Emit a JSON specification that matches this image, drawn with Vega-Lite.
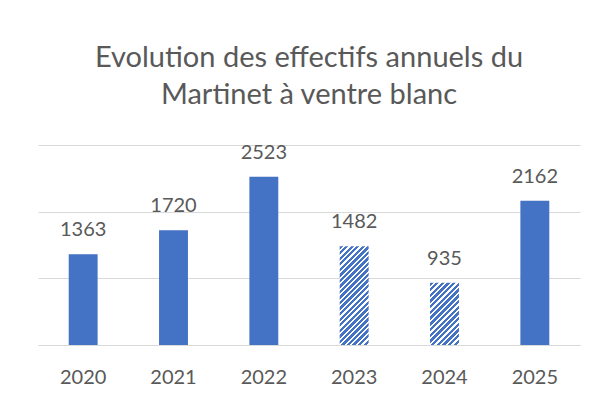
{
  "$schema": "https://vega.github.io/schema/vega-lite/v6.json",
  "width": 542,
  "height": 200,
  "autosize": {"type": "none"},
  "padding": {"left": 38, "top": 145, "right": 21, "bottom": 56},
  "background": "white",
  "config": {"view": {"stroke": null}, "font": "Lato"},
  "title": {
    "text": ["Evolution des effectifs annuels du", "Martinet à ventre blanc"],
    "fontSize": 29,
    "font": "Lato",
    "fontWeight": "normal",
    "color": "#595959",
    "lineHeight": 37,
    "offset": 33,
    "anchor": "middle"
  },
  "data": {
    "values": [
      {"year": "2020", "effectif": 1363},
      {"year": "2021", "effectif": 1720},
      {"year": "2022", "effectif": 2523},
      {"year": "2023", "effectif": 1482},
      {"year": "2024", "effectif": 935},
      {"year": "2025", "effectif": 2162}
    ]
  },
  "encoding": {
    "x": {
      "field": "year",
      "type": "ordinal",
      "scale": {"paddingInner": 0.68, "paddingOuter": 0.34},
      "axis": {
        "title": null,
        "labelAngle": 0,
        "ticks": false,
        "domainColor": "#d9d9d9",
        "domainWidth": 1,
        "labelFont": "Lato",
        "labelFontSize": 20,
        "labelColor": "#595959",
        "labelBaseline": "alphabetic",
        "labelPadding": 38
      }
    },
    "y": {
      "field": "effectif",
      "type": "quantitative",
      "scale": {"domain": [0, 3000]},
      "axis": {
        "title": null,
        "values": [0, 1000, 2000, 3000],
        "labels": false,
        "ticks": false,
        "domain": false,
        "grid": true,
        "gridColor": "#d9d9d9",
        "gridWidth": 1
      }
    }
  },
  "layer": [
    {
      "transform": [{"filter": "datum.year != '2023' && datum.year != '2024'"}],
      "mark": {"type": "bar", "fill": "#4472C4"}
    },
    {
      "transform": [{"filter": "datum.year == '2023'"}],
      "mark": {
        "type": "bar",
        "fill": {
          "gradient": "linear",
          "x1": 0, "y1": 0, "x2": 0.3483, "y2": 1.1906,
          "stops": [
            {"offset": 0, "color": "#4472C4"}, {"offset": 0.0261, "color": "#4472C4"}, {"offset": 0.0261, "color": "#ffffff"}, {"offset": 0.0435, "color": "#ffffff"},
            {"offset": 0.0435, "color": "#4472C4"}, {"offset": 0.0696, "color": "#4472C4"}, {"offset": 0.0696, "color": "#ffffff"}, {"offset": 0.0870, "color": "#ffffff"},
            {"offset": 0.0870, "color": "#4472C4"}, {"offset": 0.1131, "color": "#4472C4"}, {"offset": 0.1131, "color": "#ffffff"}, {"offset": 0.1304, "color": "#ffffff"},
            {"offset": 0.1304, "color": "#4472C4"}, {"offset": 0.1565, "color": "#4472C4"}, {"offset": 0.1565, "color": "#ffffff"}, {"offset": 0.1739, "color": "#ffffff"},
            {"offset": 0.1739, "color": "#4472C4"}, {"offset": 0.2000, "color": "#4472C4"}, {"offset": 0.2000, "color": "#ffffff"}, {"offset": 0.2174, "color": "#ffffff"},
            {"offset": 0.2174, "color": "#4472C4"}, {"offset": 0.2435, "color": "#4472C4"}, {"offset": 0.2435, "color": "#ffffff"}, {"offset": 0.2609, "color": "#ffffff"},
            {"offset": 0.2609, "color": "#4472C4"}, {"offset": 0.2870, "color": "#4472C4"}, {"offset": 0.2870, "color": "#ffffff"}, {"offset": 0.3043, "color": "#ffffff"},
            {"offset": 0.3043, "color": "#4472C4"}, {"offset": 0.3304, "color": "#4472C4"}, {"offset": 0.3304, "color": "#ffffff"}, {"offset": 0.3478, "color": "#ffffff"},
            {"offset": 0.3478, "color": "#4472C4"}, {"offset": 0.3739, "color": "#4472C4"}, {"offset": 0.3739, "color": "#ffffff"}, {"offset": 0.3913, "color": "#ffffff"},
            {"offset": 0.3913, "color": "#4472C4"}, {"offset": 0.4174, "color": "#4472C4"}, {"offset": 0.4174, "color": "#ffffff"}, {"offset": 0.4348, "color": "#ffffff"},
            {"offset": 0.4348, "color": "#4472C4"}, {"offset": 0.4609, "color": "#4472C4"}, {"offset": 0.4609, "color": "#ffffff"}, {"offset": 0.4783, "color": "#ffffff"},
            {"offset": 0.4783, "color": "#4472C4"}, {"offset": 0.5044, "color": "#4472C4"}, {"offset": 0.5044, "color": "#ffffff"}, {"offset": 0.5217, "color": "#ffffff"},
            {"offset": 0.5217, "color": "#4472C4"}, {"offset": 0.5478, "color": "#4472C4"}, {"offset": 0.5478, "color": "#ffffff"}, {"offset": 0.5652, "color": "#ffffff"},
            {"offset": 0.5652, "color": "#4472C4"}, {"offset": 0.5913, "color": "#4472C4"}, {"offset": 0.5913, "color": "#ffffff"}, {"offset": 0.6087, "color": "#ffffff"},
            {"offset": 0.6087, "color": "#4472C4"}, {"offset": 0.6348, "color": "#4472C4"}, {"offset": 0.6348, "color": "#ffffff"}, {"offset": 0.6522, "color": "#ffffff"},
            {"offset": 0.6522, "color": "#4472C4"}, {"offset": 0.6783, "color": "#4472C4"}, {"offset": 0.6783, "color": "#ffffff"}, {"offset": 0.6957, "color": "#ffffff"},
            {"offset": 0.6957, "color": "#4472C4"}, {"offset": 0.7218, "color": "#4472C4"}, {"offset": 0.7218, "color": "#ffffff"}, {"offset": 0.7391, "color": "#ffffff"},
            {"offset": 0.7391, "color": "#4472C4"}, {"offset": 0.7652, "color": "#4472C4"}, {"offset": 0.7652, "color": "#ffffff"}, {"offset": 0.7826, "color": "#ffffff"},
            {"offset": 0.7826, "color": "#4472C4"}, {"offset": 0.8087, "color": "#4472C4"}, {"offset": 0.8087, "color": "#ffffff"}, {"offset": 0.8261, "color": "#ffffff"},
            {"offset": 0.8261, "color": "#4472C4"}, {"offset": 0.8522, "color": "#4472C4"}, {"offset": 0.8522, "color": "#ffffff"}, {"offset": 0.8696, "color": "#ffffff"},
            {"offset": 0.8696, "color": "#4472C4"}, {"offset": 0.8957, "color": "#4472C4"}, {"offset": 0.8957, "color": "#ffffff"}, {"offset": 0.9130, "color": "#ffffff"},
            {"offset": 0.9130, "color": "#4472C4"}, {"offset": 0.9391, "color": "#4472C4"}, {"offset": 0.9391, "color": "#ffffff"}, {"offset": 0.9565, "color": "#ffffff"},
            {"offset": 0.9565, "color": "#4472C4"}, {"offset": 0.9826, "color": "#4472C4"}, {"offset": 0.9826, "color": "#ffffff"}, {"offset": 1, "color": "#ffffff"}
          ]
        }
      }
    },
    {
      "transform": [{"filter": "datum.year == '2024'"}],
      "mark": {
        "type": "bar",
        "fill": {
          "gradient": "linear",
          "x1": 0, "y1": 0, "x2": 0.5586, "y2": 1.2047,
          "stops": [
            {"offset": 0, "color": "#4472C4"}, {"offset": 0.0375, "color": "#4472C4"}, {"offset": 0.0375, "color": "#ffffff"}, {"offset": 0.0625, "color": "#ffffff"},
            {"offset": 0.0625, "color": "#4472C4"}, {"offset": 0.1, "color": "#4472C4"}, {"offset": 0.1, "color": "#ffffff"}, {"offset": 0.125, "color": "#ffffff"},
            {"offset": 0.125, "color": "#4472C4"}, {"offset": 0.1625, "color": "#4472C4"}, {"offset": 0.1625, "color": "#ffffff"}, {"offset": 0.1875, "color": "#ffffff"},
            {"offset": 0.1875, "color": "#4472C4"}, {"offset": 0.225, "color": "#4472C4"}, {"offset": 0.225, "color": "#ffffff"}, {"offset": 0.25, "color": "#ffffff"},
            {"offset": 0.25, "color": "#4472C4"}, {"offset": 0.2875, "color": "#4472C4"}, {"offset": 0.2875, "color": "#ffffff"}, {"offset": 0.3125, "color": "#ffffff"},
            {"offset": 0.3125, "color": "#4472C4"}, {"offset": 0.35, "color": "#4472C4"}, {"offset": 0.35, "color": "#ffffff"}, {"offset": 0.375, "color": "#ffffff"},
            {"offset": 0.375, "color": "#4472C4"}, {"offset": 0.4125, "color": "#4472C4"}, {"offset": 0.4125, "color": "#ffffff"}, {"offset": 0.4375, "color": "#ffffff"},
            {"offset": 0.4375, "color": "#4472C4"}, {"offset": 0.475, "color": "#4472C4"}, {"offset": 0.475, "color": "#ffffff"}, {"offset": 0.5, "color": "#ffffff"},
            {"offset": 0.5, "color": "#4472C4"}, {"offset": 0.5375, "color": "#4472C4"}, {"offset": 0.5375, "color": "#ffffff"}, {"offset": 0.5625, "color": "#ffffff"},
            {"offset": 0.5625, "color": "#4472C4"}, {"offset": 0.6, "color": "#4472C4"}, {"offset": 0.6, "color": "#ffffff"}, {"offset": 0.625, "color": "#ffffff"},
            {"offset": 0.625, "color": "#4472C4"}, {"offset": 0.6625, "color": "#4472C4"}, {"offset": 0.6625, "color": "#ffffff"}, {"offset": 0.6875, "color": "#ffffff"},
            {"offset": 0.6875, "color": "#4472C4"}, {"offset": 0.725, "color": "#4472C4"}, {"offset": 0.725, "color": "#ffffff"}, {"offset": 0.75, "color": "#ffffff"},
            {"offset": 0.75, "color": "#4472C4"}, {"offset": 0.7875, "color": "#4472C4"}, {"offset": 0.7875, "color": "#ffffff"}, {"offset": 0.8125, "color": "#ffffff"},
            {"offset": 0.8125, "color": "#4472C4"}, {"offset": 0.85, "color": "#4472C4"}, {"offset": 0.85, "color": "#ffffff"}, {"offset": 0.875, "color": "#ffffff"},
            {"offset": 0.875, "color": "#4472C4"}, {"offset": 0.9125, "color": "#4472C4"}, {"offset": 0.9125, "color": "#ffffff"}, {"offset": 0.9375, "color": "#ffffff"},
            {"offset": 0.9375, "color": "#4472C4"}, {"offset": 0.975, "color": "#4472C4"}, {"offset": 0.975, "color": "#ffffff"}, {"offset": 1, "color": "#ffffff"}
          ]
        }
      }
    },
    {
      "mark": {
        "type": "text",
        "baseline": "alphabetic",
        "dy": -18,
        "font": "Lato",
        "fontSize": 20,
        "color": "#595959"
      },
      "encoding": {"text": {"field": "effectif", "type": "quantitative", "format": "d"}}
    }
  ]
}
